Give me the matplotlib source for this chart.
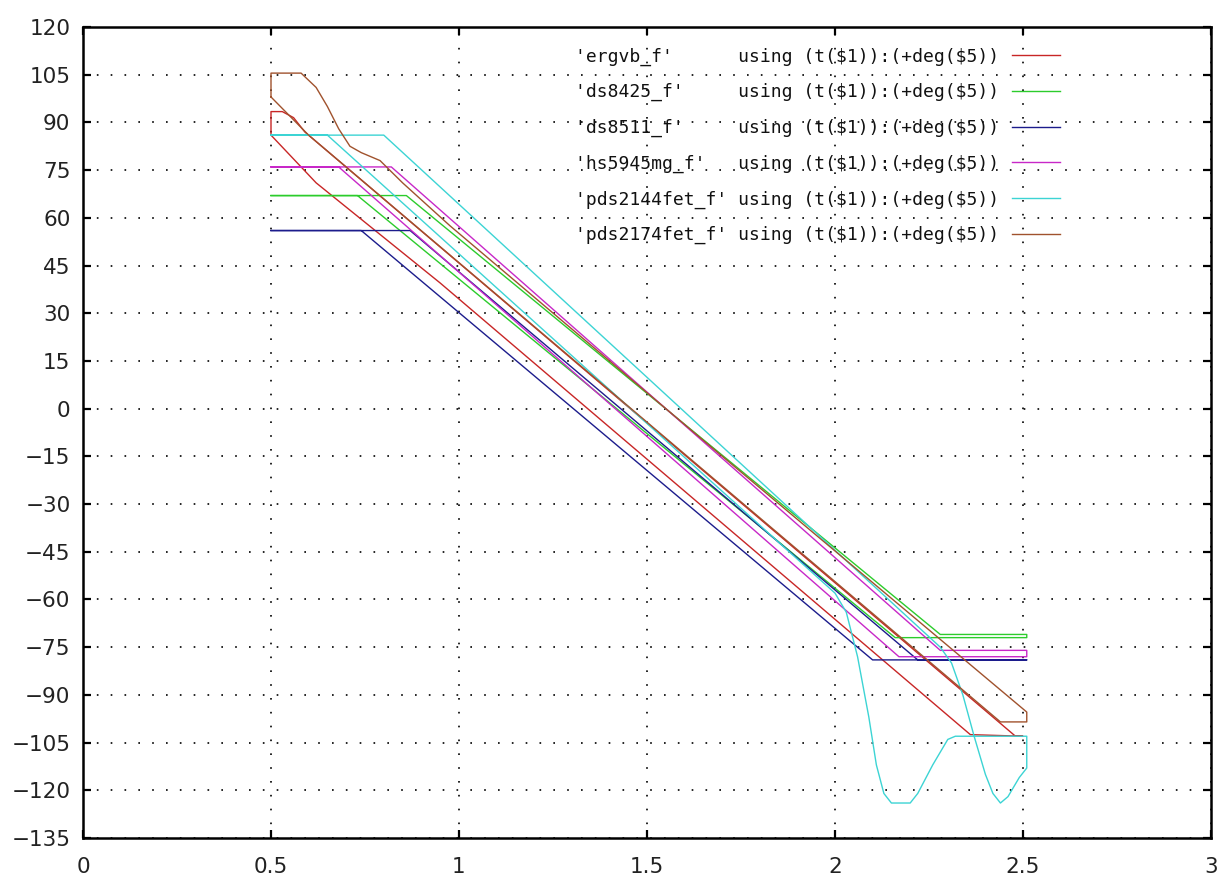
import matplotlib
matplotlib.use("Agg")
import matplotlib.pyplot as plt
from matplotlib import font_manager

# ---------------- data ----------------
ergvb_t   = [0.50, 0.50, 0.53, 0.56, 0.59, 2.48, 2.50, 2.36, 0.95, 0.62, 0.50]
ergvb_deg = [86.0, 93.4, 93.4, 91.5, 87.0, -103.0, -103.0, -102.5, 39.5, 71.0, 86.0]

ds8425_t   = [0.50, 0.86, 2.28, 2.51, 2.51, 2.16, 0.73, 0.50]
ds8425_deg = [67.0, 67.0, -71.0, -71.0, -72.0, -72.0, 67.0, 67.0]

ds8511_t   = [0.50, 0.87, 2.22, 2.51, 2.10, 0.74, 0.50]
ds8511_deg = [56.0, 56.0, -79.0, -79.0, -79.0, 56.0, 56.0]

hs5945mg_t   = [0.50, 0.82, 2.28, 2.51, 2.51, 2.17, 0.68, 0.50]
hs5945mg_deg = [76.0, 76.0, -76.0, -76.0, -78.0, -78.0, 76.0, 76.0]

pds2144fet_t   = [0.50, 0.80, 2.28, 2.31, 2.34, 2.37, 2.40, 2.42, 2.44, 2.46, 2.49,
                  2.51, 2.51, 2.32, 2.30, 2.26, 2.22, 2.20, 2.15, 2.13, 2.11, 2.09,
                  2.06, 2.03, 2.00, 0.65, 0.50]
pds2144fet_deg = [86.0, 86.0, -75.0, -80.0, -90.0, -103.0, -115.0, -121.0, -124.0, -122.0, -116.0,
                  -113.0, -103.0, -103.0, -104.0, -112.0, -121.0, -124.0, -124.0, -121.0, -112.0, -97.0,
                  -78.0, -64.0, -58.0, 86.0, 86.0]

pds2174fet_t   = [0.50, 0.50, 0.58, 0.62, 0.65, 0.68, 0.71, 0.74, 0.79, 0.85, 0.976,
                  1.64, 2.51, 2.51, 2.44, 0.60, 0.50]
pds2174fet_deg = [98.0, 105.5, 105.5, 101.0, 95.0, 88.0, 82.5, 80.5, 78.0, 71.0, 57.5,
                  -9.0, -95.4, -98.5, -98.5, 86.0, 98.0]

series_names = ["'ergvb_f'", "'ds8425_f'", "'ds8511_f'", "'hs5945mg_f'",
                "'pds2144fet_f'", "'pds2174fet_f'"]
series_t = [ergvb_t, ds8425_t, ds8511_t, hs5945mg_t, pds2144fet_t, pds2174fet_t]
series_deg = [ergvb_deg, ds8425_deg, ds8511_deg, hs5945mg_deg, pds2144fet_deg, pds2174fet_deg]
series_colors = ['#c82626', '#2ccc2c', '#1c1c8c', '#c828c8', '#3cd4d4', '#a0522d']
using_text = r"using (t(\$1)):(+deg(\$5))"

x_ticks = [0, 0.5, 1, 1.5, 2, 2.5, 3]
x_ticklabels = ['0', '0.5', '1', '1.5', '2', '2.5', '3']
y_ticks = list(range(-135, 121, 15))

# ---------------- fonts ----------------
names = {f.name for f in font_manager.fontManager.ttflist}
if 'Liberation Sans Narrow' in names:
    tick_family, tick_size = 'Liberation Sans Narrow', 20
else:
    tick_family, tick_size = 'DejaVu Sans', 15.5

# ---------------- figure ----------------
fig = plt.figure(figsize=(12.2, 8.82), dpi=100)
fig.patch.set_facecolor('white')
ax = fig.add_axes([83 / 1220, 44 / 882, 1128 / 1220, 811 / 882])

for name, t, d, c in zip(series_names, series_t, series_deg, series_colors):
    label = name.ljust(14) + " " + using_text
    ax.plot(t, d, color=c, lw=1.0, label=label, zorder=3)

ax.set_xlim(0, 3)
ax.set_ylim(-135, 120)
ax.set_xticks(x_ticks)
ax.set_xticklabels(x_ticklabels)
ax.set_yticks(y_ticks)

ax.grid(True, color='black', lw=1.2, linestyle=(0, (1, 7.3)), zorder=1)
ax.set_axisbelow(True)

for s in ax.spines.values():
    s.set_linewidth(1.8)
    s.set_color('black')

ax.tick_params(direction='in', top=True, right=True, length=6, width=1.6,
               labelsize=tick_size)
ax.tick_params(axis='x', pad=14)
ax.tick_params(axis='y', pad=9)
for lab in ax.get_xticklabels() + ax.get_yticklabels():
    lab.set_family(tick_family)
    lab.set_color('#222222')

leg = ax.legend(loc='upper left', bbox_to_anchor=(0.436, 0.975), frameon=False,
                markerfirst=False, prop={'family': 'DejaVu Sans Mono', 'size': 13},
                handlelength=2.7, handletextpad=0.7, labelspacing=0.97,
                borderpad=0, borderaxespad=0)
for txt in leg.get_texts():
    txt.set_color('#111111')

fig.savefig('out.png', dpi=100, facecolor='white')
